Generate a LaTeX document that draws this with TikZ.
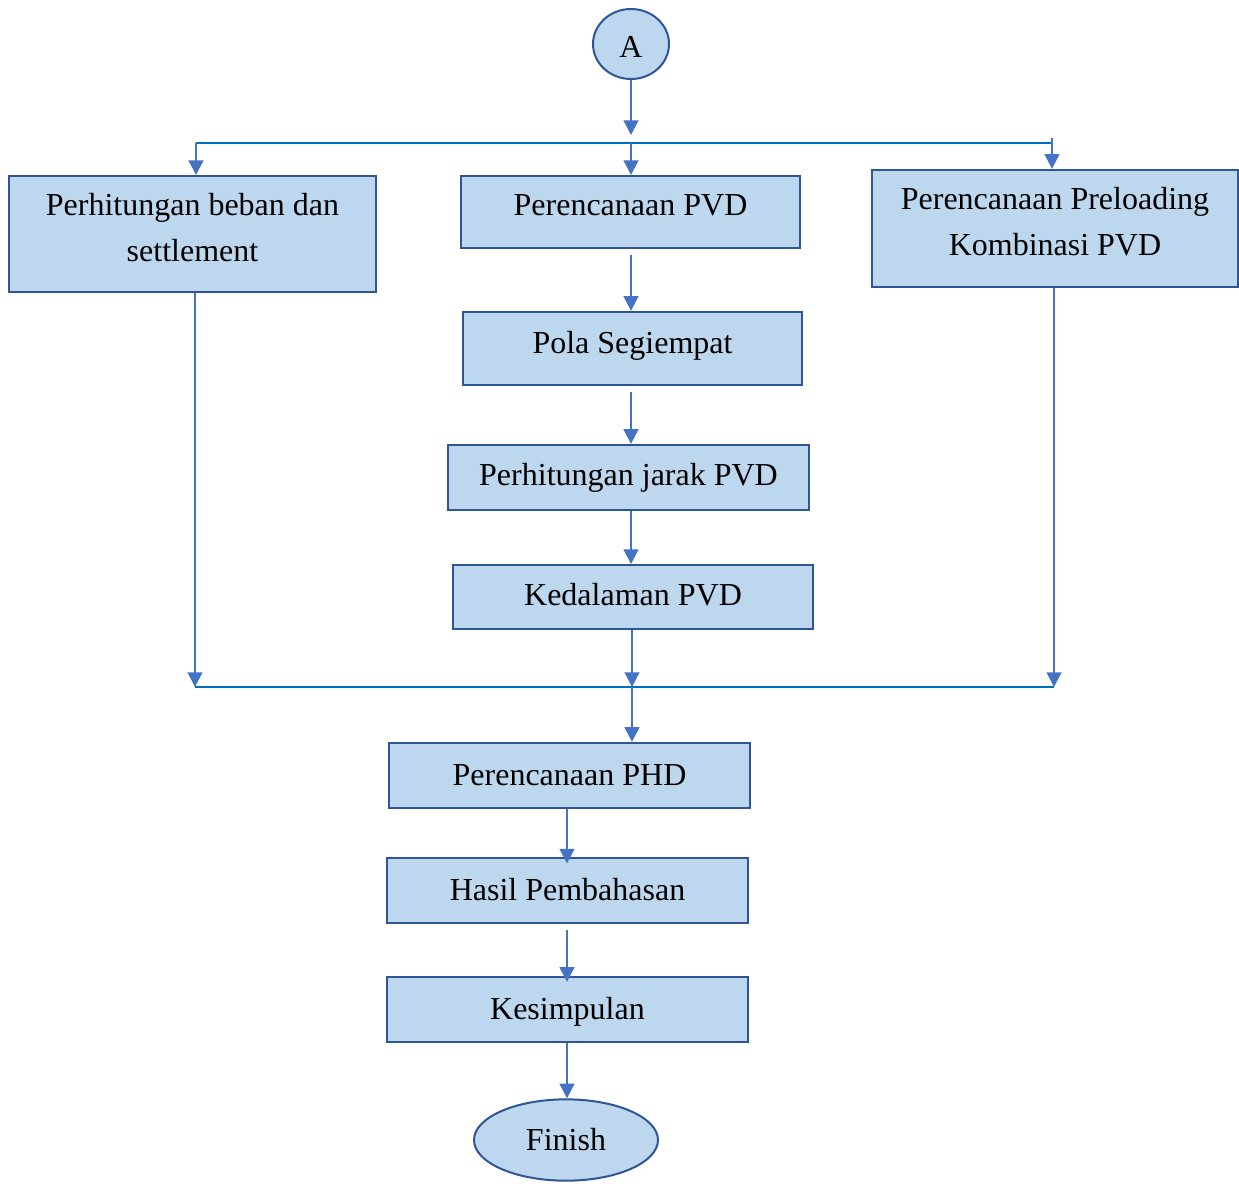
\documentclass[tikz,border=0pt]{standalone}
\usepackage{fontspec}
\setmainfont{Liberation Serif}
\usetikzlibrary{arrows.meta,shapes.geometric}
\definecolor{boxfill}{HTML}{BDD7EE}
\definecolor{boxdraw}{HTML}{2F5597}
\definecolor{arrcol}{HTML}{4472C4}
\definecolor{linecol}{HTML}{0070C0}
\tikzset{
  procbox/.style={draw=boxdraw, fill=boxfill, line width=1.5pt, inner sep=0pt},
  txt/.style={inner sep=0pt, align=center, font=\fontsize{24}{34.5}\selectfont},
  arr/.style={draw=arrcol, line width=1.6pt, -{Triangle[width=11pt,length=11pt]}},
  hline/.style={draw=linecol, line width=1.6pt},
}
\begin{document}
\begin{tikzpicture}[x=0.75pt,y=-0.75pt]
\useasboundingbox (0,0) rectangle (1239,1183);
% boxes
\node[procbox, ellipse, minimum width=57pt, minimum height=52.5pt] (A) at (631,44) {};
\node[procbox, minimum width=275pt, minimum height=87pt] (b1) at (192.5,234) {};
\node[procbox, minimum width=254pt, minimum height=54pt] (b2) at (630.5,212) {};
\node[procbox, minimum width=254pt, minimum height=55pt] (b3) at (632.5,348.5) {};
\node[procbox, minimum width=271pt, minimum height=49pt] (b4) at (628.5,477.5) {};
\node[procbox, minimum width=270pt, minimum height=48pt] (b5) at (633,597) {};
\node[procbox, minimum width=274pt, minimum height=88pt] (b6) at (1055,228.5) {};
\node[procbox, minimum width=271pt, minimum height=49pt] (b7) at (569.5,775.5) {};
\node[procbox, minimum width=271pt, minimum height=49pt] (b8) at (567.5,890.5) {};
\node[procbox, minimum width=271pt, minimum height=49pt] (b9) at (567.5,1009.5) {};
\node[procbox, ellipse, minimum width=138pt, minimum height=61pt] (fin) at (566,1140) {};
% texts
\node[txt] (tA) at ([yshift=-2.2pt]A.center) {A};
\node[txt] (t1) at ([yshift=5.2pt]b1.center) {Perhitungan beban dan\\settlement};
\node[txt] (t2) at ([yshift=5.2pt]b2.center) {Perencanaan PVD};
\node[txt] (t3) at ([yshift=2.2pt]b3.center) {Pola Segiempat};
\node[txt] (t4) at (b4.center) {Perhitungan jarak PVD};
\node[txt] (t5) at ([yshift=1.5pt]b5.center) {Kedalaman PVD};
\node[txt] (t6) at ([yshift=5.5pt]b6.center) {Perencanaan Preloading\\Kombinasi PVD};
\node[txt] (t7) at (b7.center) {Perencanaan PHD};
\node[txt] (t8) at ([yshift=0.7pt]b8.center) {Hasil Pembahasan};
\node[txt] (t9) at ([yshift=-1.5pt]b9.center) {Kesimpulan};
\node[txt] (tf) at (fin.center) {Finish};
% junction coordinates
\coordinate (tl) at (196,143);
\coordinate (tc) at (631,143);
\coordinate (tr) at (1052,143);
\coordinate (trtop) at (1052,138);
\coordinate (bl) at (195,687);
\coordinate (bc) at (632,687);
\coordinate (br) at (1054,687);
% top distribution
\draw[arr] (A.south) -- ([yshift=6pt]tc);
\draw[hline] (tl) -- (tr);
\draw[arr] (tl) -- (tl |- b1.north);
\draw[arr] (tc) -- (tc |- b2.north);
\draw[arr] (trtop) -- (trtop |- b6.north);
% center chain
\draw[arr] ([yshift=-4.5pt]b2.south -| tc) -- (tc |- b3.north);
\draw[arr] ([yshift=-4pt]b3.south -| tc) -- (tc |- b4.north);
\draw[arr] (b4.south -| tc) -- (tc |- b5.north);
\draw[arr] (b5.south -| bc) -- (bc);
\draw[arr] (b1.south -| bl) -- (bl);
\draw[arr] (b6.south -| br) -- (br);
\draw[hline] (bl) -- (br);
\draw[arr] (bc) -- (bc |- b7.north);
% bottom chain
\coordinate (cx) at (567,0);
\draw[arr] (b7.south -| cx) -- ([yshift=-5pt]cx |- b8.north);
\draw[arr] ([yshift=-4.5pt]b8.south -| cx) -- ([yshift=-4.5pt]cx |- b9.north);
\draw[arr] (b9.south -| cx) -- (cx |- fin.north);
\end{tikzpicture}
\end{document}
